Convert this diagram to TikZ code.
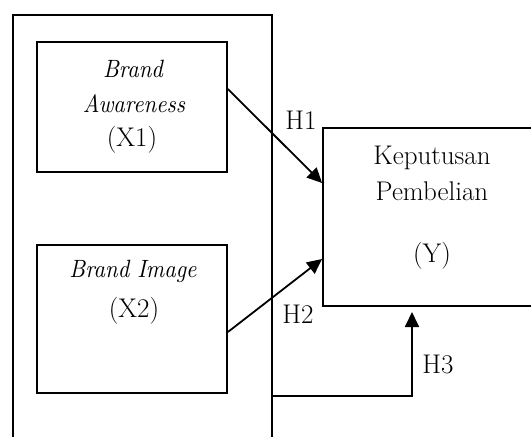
\documentclass[tikz,border=0pt]{standalone}
\usepackage{fontspec}
\newfontfamily\itY{lmroman10-italic.otf}[FakeStretch=0.9]
\usetikzlibrary{arrows.meta}
\begin{document}
\begin{tikzpicture}[x=1pt,y=-1pt,
  box/.style={draw,line width=1.8pt,rectangle,inner sep=0pt},
  txt/.style={anchor=base,inner sep=0pt,font=\fontsize{27}{32}\selectfont},
  ittxt/.style={anchor=base,inner sep=0pt,font=\fontsize{25}{30}\selectfont\itY},
  arr/.style={line width=1.8pt,-{Triangle[length=15pt,width=14pt]}}]
\useasboundingbox (0,0) rectangle (531,437);
\clip (0,0) rectangle (531,437);
% outer frame (bottom cut off)
\node[box,minimum width=259pt,minimum height=445pt] (frame) at (142.5,237.5) {};
% boxes
\node[box,minimum width=190pt,minimum height=130pt] (x1) at (132,107) {};
\node[box,minimum width=190pt,minimum height=148pt] (x2) at (132,319) {};
\node[box,minimum width=237pt,minimum height=178pt] (y) at (441.5,217) {};
% texts
\node[ittxt] (t1a) at (133,77) {Brand};
\node[ittxt] (t1b) at (134,112) {Awareness};
\node[txt] (t1c) at (132,146) {(X1)};
\node[ittxt] (t2a) at (133,277) {Brand Image};
\node[txt] (t2b) at (134,317) {(X2)};
\node[txt] (tya) at (432,164) {Keputusan};
\node[txt] (tyb) at (432,200) {Pembelian};
\node[txt] (tyc) at (432,262) {(Y)};
% connectors
\draw[arr] ([yshift=18pt]x1.east) -- ([yshift=34pt]y.west);
\draw[arr] ([yshift=-13pt]x2.east) -- ([yshift=-42pt]y.west);
\coordinate (h3s) at (frame.east |- 0,396);
\coordinate (h3e) at (412,312);
\draw[arr] (h3s) -| (h3e);
% labels
\node[txt] (h1) at (301,129) {H1};
\node[txt] (h2) at (298,323) {H2};
\node[txt] (h3) at (438,373) {H3};
\end{tikzpicture}
\end{document}
